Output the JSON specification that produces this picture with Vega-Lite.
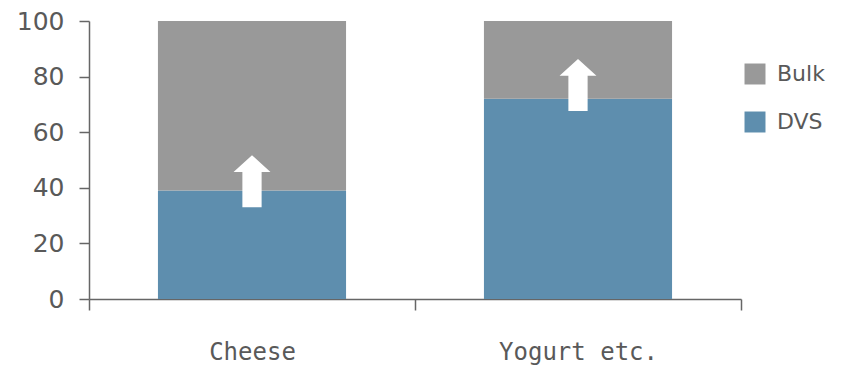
{
  "$schema": "https://vega.github.io/schema/vega-lite/v6.json",
  "width": 652,
  "height": 278,
  "autosize": {"type": "none"},
  "padding": {"left": 89, "top": 21, "right": 105, "bottom": 69},
  "background": "white",
  "datasets": {
    "shares": [
      {"product": "Cheese", "series": "DVS", "value": 39},
      {"product": "Cheese", "series": "Bulk", "value": 61},
      {"product": "Yogurt etc.", "series": "DVS", "value": 72},
      {"product": "Yogurt etc.", "series": "Bulk", "value": 28}
    ],
    "arrows": [
      {"product": "Cheese", "level": 42.4},
      {"product": "Yogurt etc.", "level": 77}
    ]
  },
  "config": {
    "view": {"stroke": null},
    "font": "DejaVu Sans",
    "axis": {
      "domainColor": "#666666",
      "tickColor": "#666666",
      "domainWidth": 1.5,
      "tickWidth": 1.5,
      "labelColor": "#595959",
      "grid": false,
      "title": null
    }
  },
  "layer": [
    {
      "data": {"name": "shares"},
      "mark": {"type": "bar", "width": {"band": 0.577}},
      "encoding": {
        "x": {
          "field": "product",
          "type": "nominal",
          "sort": ["Cheese", "Yogurt etc."],
          "scale": {"paddingInner": 0, "paddingOuter": 0},
          "axis": {"labelAngle": 0, "tickBand": "extent", "tickSize": 11, "labelPadding": 30, "labelFont": "DejaVu Sans Mono", "labelFontSize": 24}
        },
        "y": {
          "field": "value",
          "type": "quantitative",
          "stack": "zero",
          "scale": {"domain": [0, 100], "nice": false},
          "axis": {"values": [0, 20, 40, 60, 80, 100], "tickSize": 10, "labelPadding": 15, "labelFont": "DejaVu Sans", "labelFontSize": 25}
        },
        "color": {
          "field": "series",
          "type": "nominal",
          "scale": {"domain": ["Bulk", "DVS"], "range": ["#999999", "#5e8eae"]},
          "legend": {
            "title": null,
            "orient": "none",
            "legendX": 655,
            "legendY": 42,
            "symbolType": "square",
            "symbolSize": 440,
            "symbolStrokeWidth": 0,
            "labelFont": "DejaVu Sans",
            "labelFontSize": 22,
            "labelColor": "#595959",
            "labelOffset": 11,
            "rowPadding": 26
          }
        },
        "order": {"field": "series", "sort": "descending"}
      }
    },
    {
      "data": {"name": "arrows"},
      "mark": {
        "type": "point",
        "filled": true,
        "fill": "white",
        "opacity": 1,
        "strokeWidth": 0,
        "size": 2704,
        "shape": "M0,-1 L0.71,-0.35 L0.37,-0.35 L0.37,1 L-0.37,1 L-0.37,-0.35 L-0.71,-0.35 Z"
      },
      "encoding": {
        "x": {"field": "product", "type": "nominal", "sort": ["Cheese", "Yogurt etc."]},
        "y": {"field": "level", "type": "quantitative"}
      }
    }
  ]
}
